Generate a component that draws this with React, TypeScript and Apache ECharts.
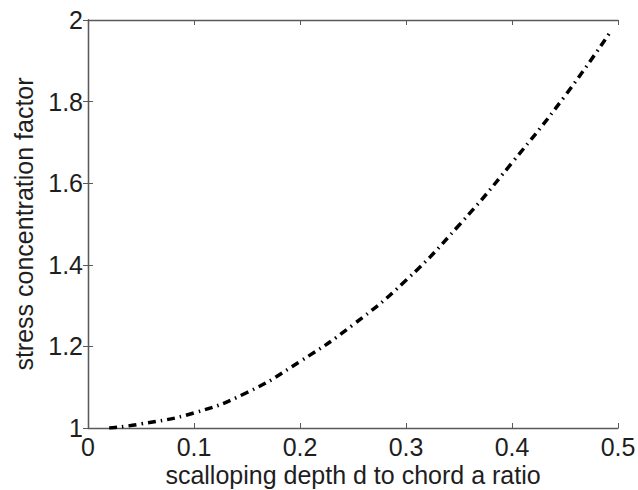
import React, { useEffect, useRef } from "react";
import * as echarts from "echarts";

const ratioValues = [0.02, 0.05, 0.1, 0.15, 0.2, 0.25, 0.3, 0.35, 0.4, 0.45, 0.4915];
const factorValues = [1.0, 1.01, 1.037, 1.087, 1.163, 1.253, 1.362, 1.497, 1.65, 1.814, 1.966];
const xTicks = [0, 0.1, 0.2, 0.3, 0.4, 0.5];
const yTicks = [1, 1.2, 1.4, 1.6, 1.8, 2];
const xTitle = "scalloping depth d to chord a ratio";
const yTitle = "stress concentration factor";

const FONT = "Liberation Sans, Arial, sans-serif";
const TEXT = "#1e1e1e";
const AXIS = "#5a5a5a";

export default function App() {
  const ref = useRef<HTMLDivElement>(null);
  useEffect(() => {
    if (!ref.current) return;
    const chart = echarts.init(ref.current, undefined, { renderer: "svg" });
    const data = ratioValues.map((x, i) => [x, factorValues[i]]);
    const fmt = (v: number) => String(Math.round(v * 10) / 10);
    const common = {
      axisLine: { show: true, lineStyle: { color: AXIS, width: 1.3 } },
      axisTick: { show: true, inside: true, length: 5, lineStyle: { color: AXIS } },
      splitLine: { show: false },
    };
    chart.setOption({
      animation: false,
      backgroundColor: "#ffffff",
      grid: {
        left: 88,
        top: 20,
        right: 20,
        bottom: 62,
        containLabel: false,
        outerBoundsMode: "none",
      },
      xAxis: [
        {
          type: "value",
          min: xTicks[0],
          max: xTicks[xTicks.length - 1],
          interval: 0.1,
          ...common,
          axisLabel: {
            color: TEXT,
            fontSize: 25,
            lineHeight: 25,
            fontFamily: FONT,
            margin: 6,
            formatter: fmt,
          },
          name: xTitle,
          nameLocation: "middle",
          nameGap: 33,
          nameMoveOverlap: false,
          nameTextStyle: { color: TEXT, fontSize: 25, fontFamily: FONT, lineHeight: 28 },
        },
        {
          type: "value",
          position: "top",
          min: xTicks[0],
          max: xTicks[xTicks.length - 1],
          interval: 0.1,
          ...common,
          axisLabel: { show: false },
        },
      ],
      yAxis: [
        {
          type: "value",
          min: yTicks[0],
          max: yTicks[yTicks.length - 1],
          interval: 0.2,
          ...common,
          axisLabel: { color: TEXT, fontSize: 25, fontFamily: FONT, margin: 5, formatter: fmt },
          name: yTitle,
          nameLocation: "middle",
          nameGap: 52,
          nameTextStyle: { color: TEXT, fontSize: 25, fontFamily: FONT },
        },
        {
          type: "value",
          position: "right",
          min: yTicks[0],
          max: yTicks[yTicks.length - 1],
          interval: 0.2,
          ...common,
          axisLabel: { show: false },
        },
      ],
      series: [
        {
          type: "line",
          data,
          smooth: true,
          showSymbol: false,
          lineStyle: { color: "#000000", width: 3.5, type: [8, 5, 1.5, 5] },
        },
      ],
    });
    return () => chart.dispose();
  }, []);
  return (
    <div
      ref={ref}
      style={{ position: "absolute", left: 0, top: 0, width: 638, height: 490 }}
    />
  );
}
